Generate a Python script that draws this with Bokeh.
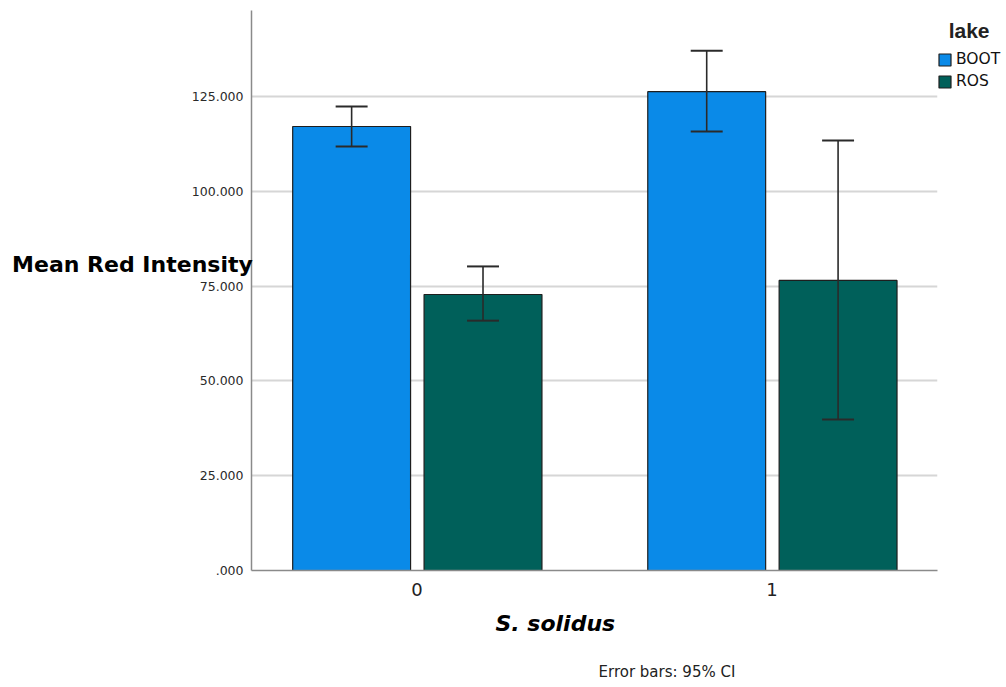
from bokeh.plotting import figure
from bokeh.models import (Range1d, FixedTicker, CustomJSTickFormatter, Legend, LegendItem,
                          Title, ColumnDataSource)
from bokeh.embed import file_html
from bokeh.resources import INLINE

# ---- data ----
groups = ["0", "1"]
lakes = ["BOOT", "ROS"]
boot_mean = [117.1, 126.3]
boot_lower = [111.8, 115.8]
boot_upper = [122.4, 137.1]
ros_mean = [72.8, 76.5]
ros_lower = [65.9, 39.8]
ros_upper = [80.2, 113.4]
y_ticks = [0, 25, 50, 75, 100, 125]

colors = {"BOOT": "#0a8ae8", "ROS": "#00605a"}
offsets = {"BOOT": -0.184, "ROS": 0.186}
bar_w = 0.332
cap_half = 0.045

p = figure(frame_width=686, frame_height=560, output_backend="svg", toolbar_location=None,
           x_range=Range1d(-0.466, 1.466), y_range=Range1d(0, 147.7),
           min_border_left=251, min_border_right=0, min_border_top=10, min_border_bottom=117)
p.outline_line_color = None
p.background_fill_color = "white"
p.border_fill_color = "white"

series = {"BOOT": (boot_mean, boot_lower, boot_upper), "ROS": (ros_mean, ros_lower, ros_upper)}
renderers = {}
for lake in lakes:
    m, lo, hi = series[lake]
    xs = [i + offsets[lake] for i in range(len(groups))]
    src = ColumnDataSource(dict(x=xs, top=m, lo=lo, hi=hi,
                                x0=[x - cap_half for x in xs], x1=[x + cap_half for x in xs]))
    r = p.vbar(x="x", top="top", bottom=0, width=bar_w, source=src,
               fill_color=colors[lake], line_color="#1e1e1e", line_width=1.2)
    renderers[lake] = r
    p.segment(x0="x", y0="lo", x1="x", y1="hi", source=src, line_color="#2a2a2a", line_width=1.6)
    p.segment(x0="x0", y0="lo", x1="x1", y1="lo", source=src, line_color="#2a2a2a", line_width=2)
    p.segment(x0="x0", y0="hi", x1="x1", y1="hi", source=src, line_color="#2a2a2a", line_width=2)

# grid
p.xgrid.grid_line_color = None
p.ygrid.grid_line_color = "#d6d6d6"
p.ygrid.grid_line_width = 2
p.ygrid.ticker = FixedTicker(ticks=y_ticks)

# y axis
p.yaxis.ticker = FixedTicker(ticks=y_ticks)
p.yaxis.formatter = CustomJSTickFormatter(code="""
    const s = tick.toFixed(3);
    return s.startsWith('0') ? s.slice(1) : s;
""")
p.yaxis.major_tick_out = 0
p.yaxis.major_tick_in = 0
p.yaxis.minor_tick_out = 0
p.yaxis.minor_tick_in = 0
p.yaxis.axis_line_color = "#8a8a8a"
p.yaxis.axis_line_width = 1.5
p.yaxis.major_label_text_font = "DejaVu Sans"
p.yaxis.major_label_text_font_size = "12.5px"
p.yaxis.major_label_text_color = "#2a2a2a"
p.yaxis.major_label_standoff = 8
p.yaxis.axis_label = "Mean Red Intensity\n \n "
p.yaxis.axis_label_orientation = "horizontal"
p.yaxis.axis_label_text_font = "DejaVu Sans"
p.yaxis.axis_label_text_font_style = "bold"
p.yaxis.axis_label_text_font_size = "22px"
p.yaxis.axis_label_text_color = "#000000"
p.yaxis.axis_label_text_line_height = 1.05
p.yaxis.axis_label_standoff = -64

# x axis
p.xaxis.ticker = FixedTicker(ticks=[0, 1])
p.xaxis.major_label_overrides = {i: g for i, g in enumerate(groups)}
p.xaxis.major_tick_out = 0
p.xaxis.major_tick_in = 0
p.xaxis.minor_tick_out = 0
p.xaxis.minor_tick_in = 0
p.xaxis.axis_line_color = "#8a8a8a"
p.xaxis.axis_line_width = 1.5
p.xaxis.major_label_text_font = "DejaVu Sans"
p.xaxis.major_label_text_font_size = "18px"
p.xaxis.major_label_text_color = "#222222"
p.xaxis.major_label_standoff = 12

xt = Title(text="S. solidus", align="left", offset=244, standoff=20,
           text_font="DejaVu Sans", text_font_style="bold italic",
           text_font_size="22px", text_color="#000000")
p.add_layout(xt, "below")
foot = Title(text="Error bars: 95% CI", align="left", offset=347, standoff=31,
             text_font="DejaVu Sans", text_font_style="normal",
             text_font_size="15px", text_color="#222222")
p.add_layout(foot, "below")

legend = Legend(items=[LegendItem(label=l, renderers=[renderers[l]]) for l in lakes],
                location=(0, 480), title="\u00a0\u00a0lake", orientation="vertical")
legend.title_text_font = "Liberation Sans"
legend.title_text_font_style = "bold"
legend.title_text_font_size = "21px"
legend.title_text_color = "#222222"
legend.title_standoff = 7
legend.label_text_font = "DejaVu Sans"
legend.label_text_font_size = "15.5px"
legend.label_text_color = "#111111"
legend.label_standoff = 4
legend.glyph_width = 15
legend.glyph_height = 15
legend.spacing = 4
legend.padding = 2
legend.margin = 0
legend.border_line_color = None
legend.background_fill_alpha = 0
legend.label_height = 15
p.add_layout(legend, "right")

open("out.html", "w").write(file_html(p, INLINE))
